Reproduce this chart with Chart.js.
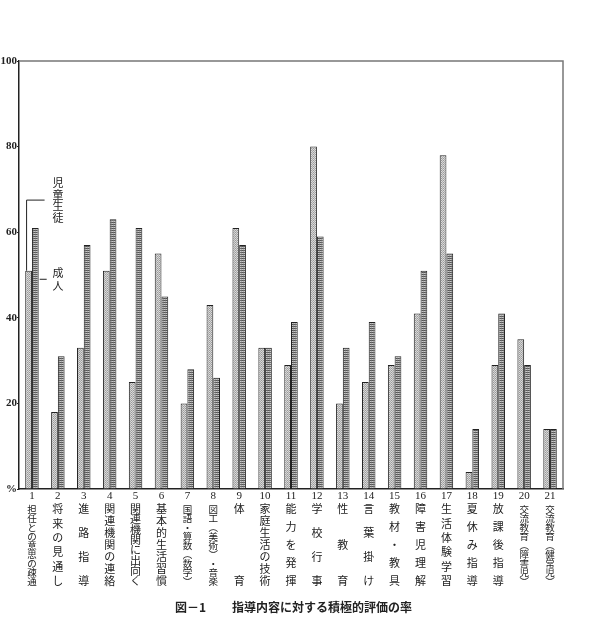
<!DOCTYPE html>
<html>
<head>
<meta charset="utf-8">
<script src="https://cdn.jsdelivr.net/npm/chart.js@4"></script>
<style>
  body { margin: 0; background: #fff; }
  #wrap { width: 610px; height: 620px; position: relative; }
</style>
</head>
<body>
<div id="wrap"><canvas id="myChart"></canvas></div>
<script>
// 指導内容 (番号と項目名)
const nums = ['1','2','3','4','5','6','7','8','9','10','11','12','13','14','15','16','17','18','19','20','21'];
const items = [
  '担任との意思の疎通', '将来の見通し', '進路指導', '関連機関の連絡', '関連機関に出向く',
  '基本的生活習慣', '国語・算数（数学）', '図工（美術）・音楽', '体育', '家庭生活の技術',
  '能力を発揮', '学校行事', '性教育', '言葉掛け', '教材・教具', '障害児理解',
  '生活体験学習', '夏休み指導', '放課後指導', '交流教育（障害児）', '交流教育（健常児）'
];
// 積極的評価の率 (%)
const students = [51, 18, 33, 51, 25, 55, 20, 43, 61, 33, 29, 80, 20, 25, 29, 41, 78, 4, 29, 35, 14];
const adults   = [61, 31, 57, 63, 61, 45, 28, 26, 57, 33, 39, 59, 33, 39, 31, 51, 55, 14, 41, 29, 14];
const yTicks = [0, 20, 40, 60, 80, 100];

// 網かけパターン
function makePattern(rows) {
  const c = document.createElement('canvas');
  c.width = rows[0].length; c.height = rows.length;
  const g = c.getContext('2d');
  rows.forEach((r, i) => {
    r.forEach((col, j) => { g.fillStyle = col; g.fillRect(j, i, 1, 1); });
  });
  return g.createPattern(c, 'repeat');
}
const dotFill = makePattern([['#d2d2d2', '#9a9a9a'], ['#ababab', '#dcdcdc']]);
const gridFill = makePattern([['#555', '#666'], ['#c8c8c8', '#aaa']]);

const frameAndLabels = {
  id: 'frameAndLabels',
  afterDraw(chart) {
    const { ctx, chartArea: { left, top, right, bottom }, scales: { x, y } } = chart;
    ctx.save();
    // 上・右の枠
    ctx.strokeStyle = '#777';
    ctx.lineWidth = 1.5;
    ctx.beginPath();
    ctx.moveTo(left, top);
    ctx.lineTo(right, top);
    ctx.lineTo(right, bottom);
    ctx.stroke();

    // 項目ラベル (縦書き)
    ctx.fillStyle = '#222';
    ctx.textAlign = 'center';
    ctx.textBaseline = 'middle';
    nums.forEach((n, i) => {
      const cx = x.getPixelForValue(i);
      ctx.font = '11px "Liberation Serif", "DejaVu Serif", serif';
      ctx.fillText(n, cx, bottom + 7);
      const chars = Array.from(items[i].replace(/（/g, '︵').replace(/）/g, '︶'));
      const y0 = bottom + 20, y1 = bottom + 92;
      const step = chars.length > 1 ? (y1 - y0) / (chars.length - 1) : 0;
      ctx.font = (chars.length >= 9 ? '9.5px' : '11px') + ' "Noto Sans CJK JP", sans-serif';
      chars.forEach((ch, k) => ctx.fillText(ch, cx, y0 + k * step));
    });

    // 凡例の引き出し線
    const b0 = chart.getDatasetMeta(0).data[0];
    const b1 = chart.getDatasetMeta(1).data[0];
    const lx = b0.x - 2;
    const ly = y.getPixelForValue(67.5);
    ctx.strokeStyle = '#222';
    ctx.lineWidth = 1;
    ctx.beginPath();
    ctx.moveTo(lx, b0.y);
    ctx.lineTo(lx, ly);
    ctx.lineTo(lx + 18, ly);
    ctx.stroke();
    const my = y.getPixelForValue(49);
    const mx = b1.x + b1.width / 2 + 1;
    ctx.beginPath();
    ctx.moveTo(mx, my);
    ctx.lineTo(mx + 7, my);
    ctx.stroke();

    ctx.font = '11px "Noto Sans CJK JP", sans-serif';
    Array.from('児童生徒').forEach((ch, k) => ctx.fillText(ch, 58, y.getPixelForValue(71.5) + k * 11.5));
    Array.from('成人').forEach((ch, k) => ctx.fillText(ch, 58, my - 6 + k * 13));

    // 図題
    ctx.font = 'bold 12px "Noto Sans CJK JP", sans-serif';
    ctx.textAlign = 'left';
    ctx.fillText('図－1', 175, 607);
    ctx.fillText('指導内容に対する積極的評価の率', 232, 607);
    ctx.restore();
  }
};

const ctx = document.getElementById('myChart');
new Chart(ctx, {
  type: 'bar',
  data: {
    labels: nums,
    datasets: [
      {
        label: '児童生徒',
        data: students,
        backgroundColor: dotFill,
        borderColor: '#222',
        borderWidth: 1,
        categoryPercentage: 0.52,
        barPercentage: 1.0
      },
      {
        label: '成人',
        data: adults,
        backgroundColor: gridFill,
        borderColor: '#222',
        borderWidth: 1,
        categoryPercentage: 0.52,
        barPercentage: 1.0
      }
    ]
  },
  options: {
    responsive: true,
    maintainAspectRatio: false,
    animation: false,
    layout: { padding: { left: 0, top: 61, right: 47, bottom: 131 } },
    plugins: {
      legend: { display: false },
      tooltip: { enabled: false }
    },
    scales: {
      x: {
        grid: { display: false, drawTicks: false },
        border: { color: '#222', width: 1.5 },
        ticks: { display: false },
        afterFit(s) { s.height = 0; }
      },
      y: {
        min: 0,
        max: 100,
        afterBuildTicks(s) { s.ticks = yTicks.map(v => ({ value: v })); },
        grid: { drawOnChartArea: false, tickLength: 2, color: '#222' },
        border: { color: '#222', width: 1.5 },
        ticks: {
          padding: 0,
          color: '#222',
          font: { family: '"Liberation Serif", "DejaVu Serif", serif', size: 11, weight: 'bold' },
          callback: v => (v === 0 ? '%' : v)
        },
        afterFit(s) { s.width = 19; }
      }
    }
  },
  plugins: [frameAndLabels]
});
</script>
</body>
</html>
